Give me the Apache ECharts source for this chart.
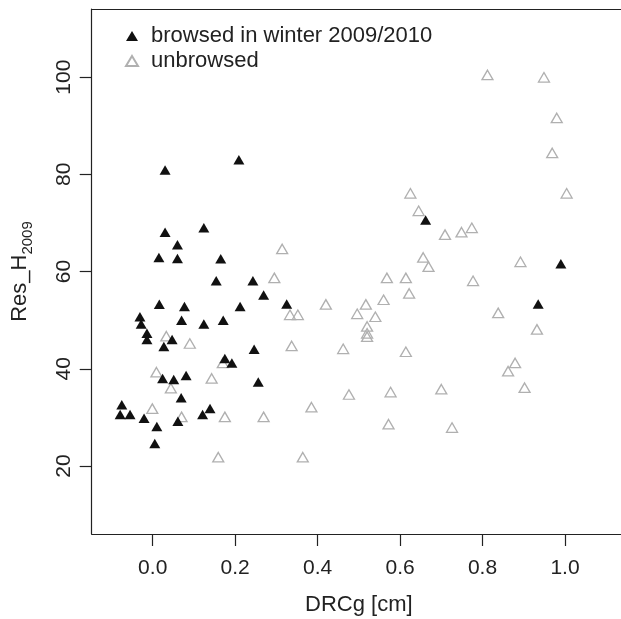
<!DOCTYPE html>
<html>
<head>
<meta charset="utf-8">
<script src="https://cdn.jsdelivr.net/npm/echarts@6/dist/echarts.min.js"></script>
<style>
  html, body { margin: 0; padding: 0; background: #fff; }
  #chart { width: 621px; height: 619px; }
</style>
</head>
<body>
<div id="chart"></div>
<script>
// browsed in winter 2009/2010 (filled triangles)
const browsedX = [0.030, 0.209, 0.030, 0.124, 0.060, 0.015, 0.060, 0.165, 0.154, 0.243,
  0.269, 0.016, 0.077, 0.212, 0.325, -0.031, -0.028, 0.070, 0.124, 0.171,
  -0.014, -0.014, 0.047, 0.027, 0.246, 0.175, 0.192, 0.024, 0.051, 0.081,
  0.256, 0.069, -0.075, -0.079, -0.055, -0.021, 0.139, 0.121, 0.061, 0.010,
  0.005, 0.662, 0.990, 0.935]
const browsedY = [80.9, 83.0, 68.1, 69.0, 65.5, 62.9, 62.7, 62.65, 58.1, 58.1,
  55.2, 53.25, 52.8, 52.8, 53.3, 50.7, 49.2, 50.0, 49.2, 50.0,
  47.3, 46.0, 46.0, 44.6, 44.0, 42.1, 41.2, 38.0, 37.8, 38.6,
  37.3, 34.05, 32.6, 30.6, 30.6, 29.8, 31.8, 30.6, 29.2, 28.1,
  24.6, 70.6, 61.6, 53.3]

// unbrowsed (open triangles)
const unbrowsedX = [0.314, 0.295, 0.333, 0.033, 0.090, 0.337, 0.170, 0.009, 0.143, 0.044,
  -0.001, 0.070, 0.175, 0.269, 0.159, 0.364, 0.645, 0.625, 0.709, 0.749,
  0.774, 0.656, 0.669, 0.568, 0.614, 0.777, 0.622, 0.560, 0.420, 0.517,
  0.352, 0.496, 0.540, 0.520, 0.520, 0.520, 0.462, 0.614, 0.476, 0.577,
  0.700, 0.385, 0.572, 0.726, 0.812, 0.949, 0.980, 0.969, 1.004, 0.892,
  0.838, 0.932, 0.879, 0.862, 0.902]
const unbrowsedY = [64.65, 58.7, 51.1, 46.7, 45.2, 44.7, 41.2, 39.3, 38.0, 36.0,
  31.8, 30.1, 30.1, 30.1, 21.8, 21.8, 72.5, 76.1, 67.6, 68.1,
  69.0, 62.9, 61.0, 58.7, 58.7, 58.1, 55.5, 54.2, 53.25, 53.25,
  51.1, 51.3, 50.7, 48.7, 47.3, 46.6, 44.1, 43.5, 34.7, 35.2,
  35.8, 32.1, 28.6, 27.9, 100.45, 99.96, 91.6, 84.4, 76.1, 62.0,
  51.5, 48.1, 41.2, 39.5, 36.1]

const xTicks = [0, 0.2, 0.4, 0.6, 0.8, 1.0]
const yTicks = [20, 40, 60, 80, 100]

const pairs = (xs, ys) => xs.map((x, i) => [x, ys[i]])

const chart = echarts.init(document.getElementById('chart'))
const font = 'Liberation Sans, Arial, Helvetica, sans-serif'
const lineStyle = { color: '#222', width: 1.2 }

const option = {
  animation: false,
  textStyle: { fontFamily: font },
  grid: {
    left: 91.7,
    top: 9.1,
    width: 534.3,
    height: 524.9,
    outerBoundsMode: 'none',
    show: false
  },
  legend: {
    orient: 'vertical',
    left: 120,
    top: 20,
    itemWidth: 12,
    itemHeight: 10,
    itemGap: 3,
    textStyle: { fontSize: 22, color: '#222', fontFamily: font, padding: [0, 0, 0, 8] },
    data: ['browsed in winter 2009/2010', 'unbrowsed']
  },
  xAxis: [
    {
      type: 'value',
      min: -0.148,
      max: 1.148,
      name: 'DRCg [cm]',
      nameLocation: 'middle',
      nameGap: 60,
      nameTextStyle: { fontSize: 22, color: '#222', fontFamily: font },
      splitLine: { show: false },
      axisLine: { show: true, onZero: false, lineStyle: lineStyle },
      axisTick: { show: true, length: 12, customValues: xTicks, lineStyle: lineStyle },
      axisLabel: {
        customValues: xTicks,
        margin: 24,
        fontSize: 21,
        color: '#222',
        fontFamily: font,
        formatter: v => v.toFixed(1)
      }
    },
    {
      // top side of the box
      type: 'value',
      position: 'top',
      min: -0.148,
      max: 1.148,
      splitLine: { show: false },
      axisLine: { show: true, onZero: false, lineStyle: lineStyle },
      axisTick: { show: false },
      axisLabel: { show: false }
    }
  ],
  yAxis: {
    type: 'value',
    min: 6,
    max: 114,
    name: '{a|Res_H}{b|2009}',
    nameLocation: 'middle',
    nameGap: 56,
    nameTextStyle: {
      color: '#222',
      fontFamily: font,
      rich: {
        a: { fontSize: 22, lineHeight: 32, color: '#222', fontFamily: font },
        b: { fontSize: 15, lineHeight: 15, verticalAlign: 'bottom', color: '#222', fontFamily: font }
      }
    },
    splitLine: { show: false },
    axisLine: { show: true, onZero: false, lineStyle: lineStyle },
    axisTick: { show: true, length: 12, customValues: yTicks, lineStyle: lineStyle },
    axisLabel: {
      customValues: yTicks,
      rotate: 90,
      margin: 17,
      fontSize: 21,
      color: '#222',
      fontFamily: font
    }
  },
  series: [
    {
      name: 'browsed in winter 2009/2010',
      type: 'scatter',
      z: 3,
      symbol: 'triangle',
      symbolSize: [11, 9.5],
      itemStyle: { color: '#111', opacity: 1 },
      data: pairs(browsedX, browsedY)
    },
    {
      name: 'unbrowsed',
      type: 'scatter',
      z: 2,
      symbol: 'triangle',
      symbolSize: [11, 9.5],
      itemStyle: { color: 'rgba(255,255,255,0)', borderColor: '#b0b0b0', borderWidth: 1.3, opacity: 1 },
      data: pairs(unbrowsedX, unbrowsedY)
    }
  ]
}
chart.setOption(option)
</script>
</body>
</html>
